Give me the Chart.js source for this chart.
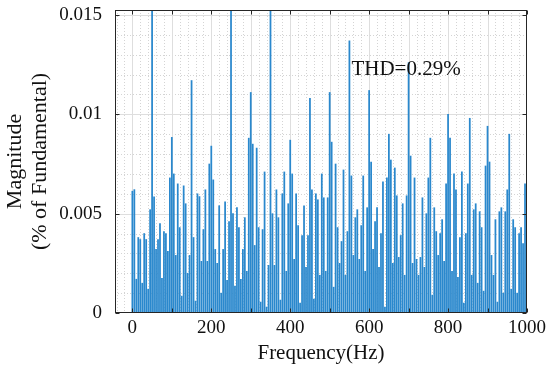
<!DOCTYPE html>
<html>
<head>
<meta charset="utf-8">
<script src="https://cdn.jsdelivr.net/npm/chart.js@4.4.1/dist/chart.umd.min.js"></script>
<style>
  html, body { margin: 0; padding: 0; background: #fff; }
  #wrap { width: 550px; height: 368px; }
</style>
</head>
<body>
<div id="wrap"><canvas id="c" width="550" height="368"></canvas></div>
<script>
// ---- data ----
const freqStep = 5; // Hz between spectral lines
const magnitudes = [
  0.00613, 0.00621, 0.0017, 0.0038, 0.0037, 0.0015, 0.0040, 0.0037, 0.0012, 0.0052,
  100, 0.00585, 0.0032, 0.0037, 0.0045, 0.00174, 0.0041, 0.0040, 0.0031, 0.0068,
  0.00884, 0.0070, 0.0029, 0.0065, 0.0043, 0.00085, 0.0064, 0.0055, 0.0020, 0.0029,
  0.0117, 0.0038, 0.0006, 0.0060, 0.00586, 0.0026, 0.0042, 0.0062, 0.0026, 0.0075,
  0.0084, 0.0067, 0.0032, 0.0025, 0.0054, 0.0010, 0.0032, 0.0056, 0.00164, 0.0046,
  0.03, 0.0050, 0.00136, 0.0053, 0.0043, 0.0017, 0.0032, 0.0048, 0.0021, 0.0088,
  0.0111, 0.0085, 0.0034, 0.0083, 0.0043, 0.00055, 0.0042, 0.0071, 0.0003, 0.0024,
  0.025, 0.0050, 0.0024, 0.0062, 0.0048, 0.00065, 0.0060, 0.0071, 0.0021, 0.0055,
  0.0087, 0.0070, 0.0027, 0.0060, 0.0044, 0.0005, 0.0039, 0.0054, 0.0023, 0.0039,
  0.0108, 0.0062, 0.0007, 0.0060, 0.0057, 0.0019, 0.0070, 0.0058, 0.0021, 0.0058,
  0.0111, 0.0086, 0.0013, 0.0075, 0.0043, 0.0025, 0.0036, 0.0072, 0.0019, 0.0041,
  0.0137, 0.0069, 0.0029, 0.0048, 0.0052, 0.0027, 0.0044, 0.0069, 0.0021, 0.0053,
  0.0112, 0.0076, 0.0032, 0.0046, 0.0053, 0.0023, 0.0040, 0.0066, 0.0003, 0.0068,
  0.0090, 0.0077, 0.0025, 0.0073, 0.0059, 0.0028, 0.0039, 0.0055, 0.0019, 0.0059,
  0.0126, 0.0079, 0.0025, 0.0068, 0.0027, 0.0019, 0.0028, 0.0058, 0.0023, 0.0050,
  0.0068, 0.0088, 0.0009, 0.0053, 0.0041, 0.0029, 0.0040, 0.0047, 0.0026, 0.0065,
  0.0100, 0.0088, 0.0021, 0.0070, 0.0062, 0.0018, 0.0038, 0.0071, 0.0005, 0.0040,
  0.0065, 0.0098, 0.0019, 0.0052, 0.0055, 0.0015, 0.0051, 0.0043, 0.0011, 0.0074,
  0.0094, 0.0076, 0.0029, 0.0019, 0.0047, 0.00055, 0.0051, 0.0053, 0.0010, 0.0051,
  0.0062, 0.0090, 0.0012, 0.0047, 0.0043, 0.0010, 0.0040, 0.0043, 0.0035, 0.0065
];
const frequencies = magnitudes.map((_, i) => i * freqStep);

const xTickValues = [0, 100, 200, 300, 400, 500, 600, 700, 800, 900, 1000];
const xTickLabels = ['0', '', '200', '', '400', '', '600', '', '800', '', '1000'];
const yTickValues = [0, 0.005, 0.01, 0.015];
const yTickLabels = ['0', '0.005', '0.01', '0.015'];
const xMinorStep = 20;
const yMinorStep = 0.001;
const xTitle = 'Frequency(Hz)';
const yTitle = ['Magnitude', '(% of Fundamental)'];
const thdText = 'THD=0.29%';
const thdPos = { x: 555, y: 0.01198 };

// ---- styling ----
const FONT = '"Liberation Serif", "Times New Roman", serif';
const AXIS = '#262626';

const matlabAxes = {
  id: 'matlabAxes',
  beforeDatasetsDraw(chart) {
    const { ctx, chartArea: a, scales: { x, y } } = chart;
    ctx.save();
    ctx.beginPath(); ctx.rect(a.left, a.top, a.right - a.left, a.bottom - a.top); ctx.clip();
    // minor grid (dotted)
    ctx.strokeStyle = '#d4d4d4'; ctx.lineWidth = 1; ctx.setLineDash([1, 2]);
    ctx.beginPath();
    for (let v = Math.ceil(x.min / xMinorStep) * xMinorStep; v <= x.max; v += xMinorStep) {
      if (xTickValues.includes(Math.round(v))) continue;
      const px = Math.round(x.getPixelForValue(v)) + 0.5;
      ctx.moveTo(px, a.top); ctx.lineTo(px, a.bottom);
    }
    for (let i = 1; i * yMinorStep <= y.max; i++) {
      const v = i * yMinorStep;
      if (i % 5 === 0) continue;
      const py = Math.round(y.getPixelForValue(v)) + 0.5;
      ctx.moveTo(a.left, py); ctx.lineTo(a.right, py);
    }
    ctx.stroke();
    // major grid
    ctx.setLineDash([]); ctx.strokeStyle = '#dedede';
    ctx.beginPath();
    xTickValues.forEach(v => {
      const px = Math.round(x.getPixelForValue(v)) + 0.5;
      ctx.moveTo(px, a.top); ctx.lineTo(px, a.bottom);
    });
    yTickValues.forEach(v => {
      const py = Math.round(y.getPixelForValue(v)) + 0.5;
      ctx.moveTo(a.left, py); ctx.lineTo(a.right, py);
    });
    ctx.stroke();
    ctx.restore();
  },
  afterDatasetsDraw(chart) {
    const { ctx, chartArea: a, scales: { x, y } } = chart;
    ctx.save();
    // THD annotation
    ctx.fillStyle = '#111';
    ctx.font = '21px ' + FONT;
    ctx.textAlign = 'left'; ctx.textBaseline = 'alphabetic';
    ctx.fillText(thdText, x.getPixelForValue(thdPos.x), y.getPixelForValue(thdPos.y));
    // box
    ctx.strokeStyle = AXIS; ctx.lineWidth = 1;
    const L = Math.round(a.left) + 0.5, R = Math.round(a.right) - 0.5;
    const T = Math.round(a.top) + 0.5, B = Math.round(a.bottom) - 0.5;
    ctx.strokeRect(L, T, R - L, B - T);
    // inward ticks
    const tl = 4;
    ctx.beginPath();
    xTickValues.forEach(v => {
      const px = Math.round(x.getPixelForValue(v)) + 0.5;
      ctx.moveTo(px, B); ctx.lineTo(px, B - tl);
      ctx.moveTo(px, T); ctx.lineTo(px, T + tl);
    });
    yTickValues.forEach(v => {
      const py = Math.round(y.getPixelForValue(v)) + 0.5;
      ctx.moveTo(L, py); ctx.lineTo(L + tl, py);
      ctx.moveTo(R, py); ctx.lineTo(R - tl, py);
    });
    ctx.stroke();
    ctx.restore();
  }
};

new Chart(document.getElementById('c'), {
  type: 'bar',
  data: {
    datasets: [{
      data: frequencies.map((f, i) => ({ x: f, y: magnitudes[i] })),
      backgroundColor: '#2a88cd',
      borderWidth: 0,
      barThickness: 1.1
    }]
  },
  options: {
    responsive: false,
    animation: false,
    events: [],
    layout: { padding: { left: 0, right: 23, top: 10, bottom: 0 } },
    plugins: { legend: { display: false }, tooltip: { enabled: false } },
    scales: {
      x: {
        type: 'linear',
        min: -44, max: 1000,
        offset: false,
        afterBuildTicks: s => { s.ticks = xTickValues.map(v => ({ value: v })); },
        afterFit: s => { s.height = 55; s.paddingLeft = 0; s.paddingRight = 0; },
        grid: { display: false, drawTicks: false },
        border: { display: false },
        ticks: {
          autoSkip: false, maxRotation: 0, padding: 4,
          color: '#111', font: { family: FONT, size: 19 },
          callback: (v) => { const i = xTickValues.indexOf(v); return i >= 0 ? xTickLabels[i] : ''; }
        },
        title: {
          display: true, text: xTitle, color: '#111',
          font: { family: FONT, size: 21, lineHeight: 1.2 },
          padding: { top: 0, bottom: 2 }
        }
      },
      y: {
        min: 0, max: 0.01525,
        afterBuildTicks: s => { s.ticks = yTickValues.map(v => ({ value: v })); },
        afterFit: s => { s.width = 115; s.paddingTop = 0; s.paddingBottom = 0; },
        grid: { display: false, drawTicks: false },
        border: { display: false },
        ticks: {
          autoSkip: false, padding: 13,
          color: '#111', font: { family: FONT, size: 19 },
          callback: (v) => { const i = yTickValues.findIndex(t => Math.abs(t - v) < 1e-9); return i >= 0 ? yTickLabels[i] : ''; }
        },
        title: {
          display: true, text: yTitle, color: '#111',
          font: { family: FONT, size: 22, lineHeight: 1.136 },
          padding: { top: 2.5, bottom: 0 }
        }
      }
    }
  },
  plugins: [matlabAxes]
});
</script>
</body>
</html>
